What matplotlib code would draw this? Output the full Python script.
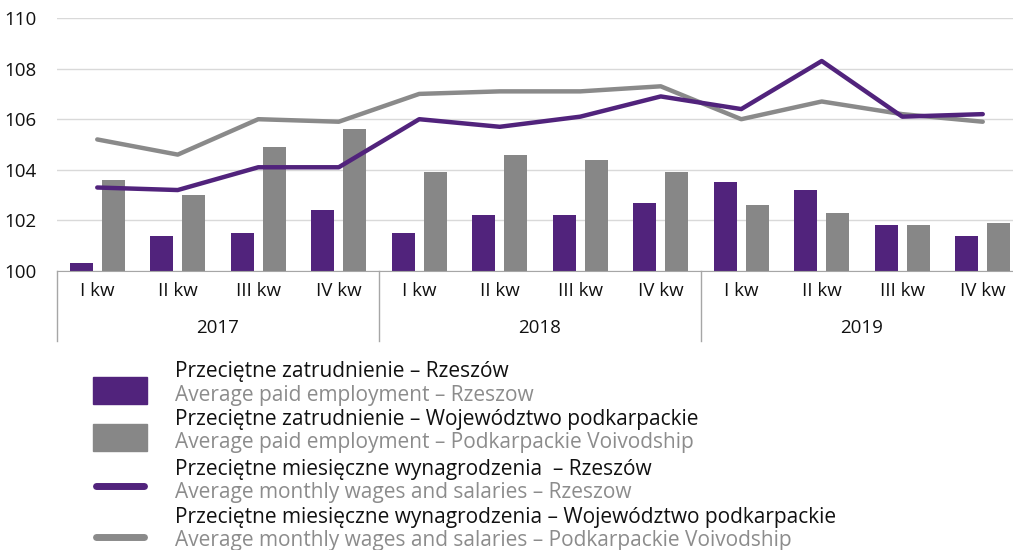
import numpy as np
import matplotlib
matplotlib.use("Agg")
import matplotlib.pyplot as plt
from matplotlib import font_manager
from matplotlib.patches import Rectangle
from matplotlib.lines import Line2D

quarters = ["I kw", "II kw", "III kw", "IV kw"]
years = ["2017", "2018", "2019"]

emp_rzeszow = [100.3, 101.4, 101.5, 102.4, 101.5, 102.2, 102.2, 102.7, 103.5, 103.2, 101.8, 101.4]
emp_podkarp = [103.6, 103.0, 104.9, 105.6, 103.9, 104.6, 104.4, 103.9, 102.6, 102.3, 101.8, 101.9]
wage_rzeszow = [103.3, 103.2, 104.1, 104.1, 106.0, 105.7, 106.1, 106.9, 106.4, 108.3, 106.1, 106.2]
wage_podkarp = [105.2, 104.6, 106.0, 105.9, 107.0, 107.1, 107.1, 107.3, 106.0, 106.7, 106.2, 105.9]

legend_pl = ["Przeciętne zatrudnienie – Rzeszów",
             "Przeciętne zatrudnienie – Województwo podkarpackie",
             "Przeciętne miesięczne wynagrodzenia  – Rzeszów",
             "Przeciętne miesięczne wynagrodzenia – Województwo podkarpackie"]
legend_en = ["Average paid employment – Rzeszow",
             "Average paid employment – Podkarpackie Voivodship",
             "Average monthly wages and salaries – Rzeszow",
             "Average monthly wages and salaries – Podkarpackie Voivodship"]

purple = "#51237c"
grey_bar = "#878787"
grey_line = "#8a8a8a"

installed = {f.name for f in font_manager.fontManager.ttflist}
main_font = "Open Sans" if "Open Sans" in installed else "DejaVu Sans"
plt.rcParams["font.family"] = [main_font, "DejaVu Sans"]

W, H = 1013, 550
fig = plt.figure(figsize=(W / 100, H / 100), dpi=100)

# main axes in pixel terms: left 57, bottom y=271, top y=18
ax = fig.add_axes([57 / W, (H - 271) / H, 966 / W, 253 / H])
x = np.arange(len(emp_rzeszow))
bw = 0.286
ax.bar(x - 0.2, emp_rzeszow, bw, color=purple, zorder=2)
ax.bar(x + 0.2, emp_podkarp, bw, color=grey_bar, zorder=2)
ax.plot(x, wage_podkarp, color=grey_line, lw=3.2, zorder=3, solid_capstyle="round")
ax.plot(x, wage_rzeszow, color=purple, lw=3.2, zorder=4, solid_capstyle="round")

ax.set_ylim(100, 110)
ax.set_xlim(-0.5, len(x) - 0.5)
ax.set_yticks(np.arange(100, 111, 2))
ax.yaxis.grid(True, color="#d9d9d9", lw=1)
ax.set_axisbelow(True)
ax.set_xticks(x)
ax.set_xticklabels(quarters * len(years))
ax.tick_params(axis="both", length=0, labelsize=13.5, colors="#111111")
ax.tick_params(axis="y", pad=15)
ax.tick_params(axis="x", pad=8)
for s in ["left", "right", "top"]:
    ax.spines[s].set_visible(False)
ax.spines["bottom"].set_color("#a6a6a6")

trans = ax.get_xaxis_transform()
for i, yr in enumerate(years):
    ax.text(4 * i + 1.5, -0.225, yr, transform=trans, ha="center", va="center",
            fontsize=13.5, color="#111111")
for xs in [-0.5, 3.5, 7.5]:
    ax.plot([xs, xs], [0, -0.277], transform=trans, color="#a6a6a6", lw=1, clip_on=False)

# legend drawn on an overlay in pixel coordinates
lg = fig.add_axes([0, 0, 1, 1])
lg.set_xlim(0, W)
lg.set_ylim(H, 0)
lg.axis("off")
lg.add_patch(Rectangle((93, 377), 54, 27, color=purple))
lg.add_patch(Rectangle((93, 424), 54, 27, color=grey_bar))
lg.add_line(Line2D([96, 144], [486, 486], color=purple, lw=5, solid_capstyle="round"))
lg.add_line(Line2D([96, 144], [537, 537], color=grey_line, lw=5, solid_capstyle="round"))

# pick a legend font size so the longest english line spans about 620 px
renderer = fig.canvas.get_renderer()
probe = lg.text(175, 0, legend_en[3], fontsize=14)
wpx = probe.get_window_extent(renderer).width
probe.remove()
leg_size = min(15.5, 14 * 620 / wpx)

ys = [372, 419, 469, 517]
for yy, pl, en in zip(ys, legend_pl, legend_en):
    lg.text(175, yy, pl, va="center", ha="left", fontsize=leg_size, color="#111111")
    lg.text(175, yy + 23.5, en, va="center", ha="left", fontsize=leg_size, color="#8c8c8c")

fig.savefig("out.png", dpi=100)
